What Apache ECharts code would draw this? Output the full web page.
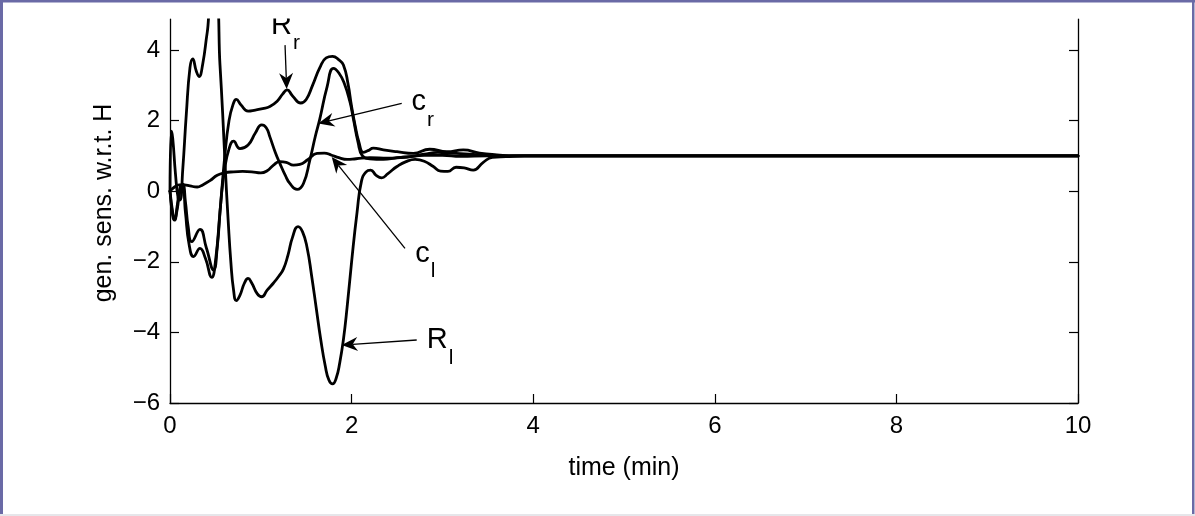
<!DOCTYPE html>
<html>
<head>
<meta charset="utf-8">
<script src="https://cdn.jsdelivr.net/npm/echarts@6.0.0/dist/echarts.min.js"></script>
<style>
  html, body { margin: 0; padding: 0; background: #ffffff; }
  #chart { width: 1195px; height: 516px; }
</style>
</head>
<body>
<div id="chart"></div>
<script>
// Generalized sensitivities with respect to H, time in minutes
const xTicks = [0, 2, 4, 6, 8, 10];
const yTicks = [-6, -4, -2, 0, 2, 4];

// [time (min), sensitivity]
const sensRr = [
  [0, 0], [0.03, -0.6], [0.05, -0.8], [0.08, -0.5], [0.11, 0.0], [0.14, 0.1], [0.17, -0.6],
  [0.21, -1.5], [0.26, -1.85], [0.33, -1.62], [0.39, -1.9], [0.46, -2.44], [0.5, -2.0],
  [0.55, -0.6], [0.6, 0.9], [0.65, 2.0], [0.7, 2.5], [0.73, 2.6], [0.78, 2.45], [0.86, 2.27],
  [0.94, 2.3], [1.02, 2.34], [1.1, 2.4], [1.18, 2.55], [1.24, 2.75], [1.29, 2.87], [1.35, 2.7],
  [1.44, 2.5], [1.5, 2.6], [1.57, 3.0], [1.65, 3.5], [1.72, 3.78], [1.79, 3.82], [1.86, 3.72],
  [1.91, 3.58], [1.96, 3.05], [2.0, 2.4], [2.04, 1.85], [2.08, 1.4], [2.13, 1.1], [2.18, 1.15],
  [2.24, 1.22], [2.35, 1.17], [2.5, 1.12], [2.68, 1.07], [2.86, 1.19], [3.05, 1.12], [3.23, 1.17],
  [3.41, 1.08], [3.6, 1.03], [3.8, 1.0], [4.2, 1.0], [10, 1.0]
];
const sensCr = [
  [0, 0], [0.03, -0.7], [0.05, -0.82], [0.08, -0.4], [0.11, 0.1], [0.14, 0.2], [0.17, -0.3],
  [0.2, -1.0], [0.24, -1.43], [0.33, -1.08], [0.4, -1.6], [0.48, -2.23], [0.52, -1.6], [0.56, -0.3],
  [0.6, 0.6], [0.65, 1.2], [0.7, 1.42], [0.77, 1.21], [0.86, 1.31], [0.94, 1.65], [1.01, 1.88],
  [1.06, 1.8], [1.1, 1.54], [1.16, 1.1], [1.21, 0.79], [1.27, 0.45], [1.32, 0.22], [1.4, 0.05],
  [1.47, 0.22], [1.54, 0.88], [1.6, 1.55], [1.65, 2.05], [1.73, 2.96], [1.8, 3.48], [1.86, 3.35],
  [1.92, 3.05], [1.98, 2.55], [2.02, 2.05], [2.07, 1.4], [2.12, 1.0], [2.2, 0.92], [2.35, 0.9],
  [2.5, 0.95], [2.65, 0.98], [2.8, 1.05], [2.95, 1.1], [3.1, 1.08], [3.3, 1.05], [3.5, 1.02],
  [3.8, 1.0], [4.2, 1.0], [10, 1.0]
];
const sensRl = [
  [0, 0], [0.015, 1.7], [0.03, 1.5], [0.06, 0.5], [0.09, -0.2], [0.11, -0.25], [0.14, 0.6],
  [0.18, 2.2], [0.22, 3.5], [0.25, 3.75], [0.29, 3.4], [0.32, 3.25], [0.36, 3.6], [0.41, 4.5],
  [0.46, 5.3], [0.51, 5.3], [0.55, 3.6], [0.58, 2.2], [0.61, 0.6], [0.64, -0.8], [0.67, -2.0],
  [0.7, -2.8], [0.73, -3.1], [0.77, -2.95], [0.82, -2.6], [0.86, -2.47], [0.9, -2.6], [0.96, -2.9],
  [1.01, -2.99], [1.07, -2.8], [1.14, -2.6], [1.2, -2.4], [1.25, -2.2], [1.3, -1.8], [1.35, -1.3],
  [1.41, -1.0], [1.46, -1.15], [1.51, -1.6], [1.56, -2.4], [1.61, -3.3], [1.66, -4.2], [1.71, -4.95],
  [1.75, -5.35], [1.79, -5.46], [1.83, -5.3], [1.87, -4.85], [1.91, -4.2], [1.95, -3.3], [2.0, -2.0],
  [2.06, -0.6], [2.11, 0.3], [2.16, 0.55], [2.21, 0.6], [2.27, 0.45], [2.33, 0.38], [2.4, 0.5],
  [2.5, 0.7], [2.6, 0.84], [2.7, 0.9], [2.8, 0.85], [2.9, 0.7], [2.98, 0.57], [3.06, 0.56],
  [3.15, 0.68], [3.24, 0.66], [3.34, 0.6], [3.45, 0.82], [3.55, 0.96], [3.7, 0.98], [3.9, 1.0],
  [4.2, 1.0], [10, 1.0]
];
const sensCl = [
  [0, 0], [0.05, 0.12], [0.1, 0.18], [0.16, 0.18], [0.22, 0.15], [0.3, 0.12], [0.36, 0.18],
  [0.44, 0.3], [0.52, 0.45], [0.6, 0.52], [0.7, 0.55], [0.8, 0.56], [0.9, 0.55], [1.0, 0.52],
  [1.07, 0.58], [1.14, 0.74], [1.21, 0.84], [1.28, 0.82], [1.36, 0.74], [1.43, 0.76], [1.52, 0.9],
  [1.62, 1.07], [1.7, 1.08], [1.78, 1.02], [1.86, 0.95], [1.95, 0.9], [2.05, 0.92], [2.2, 0.95],
  [2.4, 0.94], [2.6, 0.97], [2.8, 1.02], [3.0, 1.02], [3.2, 0.99], [3.5, 1.0], [4.2, 1.0], [10, 1.0]
];

// Arrow annotations, given in axis units: label anchor (left, baseline), arrow tail and tip
const annotations = [
  { main: 'R', sub: 'r', text: [1.112, 4.47],  tail: [1.267, 4.14],  tip: [1.285, 2.90] },
  { main: 'c', sub: 'r', text: [2.66, 2.30],   tail: [2.552, 2.49],  tip: [1.633, 1.92] },
  { main: 'c', sub: 'l', text: [2.70, -2.0],   tail: [2.588, -1.62], tip: [1.781, 0.97] },
  { main: 'R', sub: 'l', text: [2.827, -4.45], tail: [2.717, -4.215], tip: [1.891, -4.36] }
];

const FONT = '"Liberation Sans", Arial, Helvetica, sans-serif';
const minus = v => String(v).replace('-', '\u2212');

const grid = { left: 170, right: 117, top: 19, bottom: 113 };
const yMin = -6, yMax = 4.88;

function lineSeries(name, data) {
  return {
    name, type: 'line', data,
    xAxisIndex: 0, yAxisIndex: 0,
    showSymbol: false, smooth: 0.5,
    clip: true,
    lineStyle: { color: '#000', width: 2.8, join: 'round', cap: 'round' },
    emphasis: { disabled: true },
    z: 3
  };
}

const option = {
  animation: false,
  backgroundColor: '#ffffff',
  grid: { left: grid.left, right: grid.right, top: grid.top, bottom: grid.bottom, containLabel: false },
  xAxis: {
    type: 'value', min: 0, max: 10, interval: 2,
    name: 'time (min)', nameLocation: 'middle', nameGap: 53,
    nameTextStyle: { fontFamily: FONT, fontSize: 25, color: '#000' },
    axisLine: { onZero: false, lineStyle: { color: '#000', width: 1.3 } },
    axisTick: { inside: true, length: 9, lineStyle: { color: '#000', width: 1.2 } },
    axisLabel: { fontFamily: FONT, fontSize: 24, color: '#000', margin: 11, customValues: xTicks },
    splitLine: { show: false }
  },
  yAxis: [
    {
      type: 'value', min: yMin, max: yMax, position: 'left',
      axisLine: { onZero: false, lineStyle: { color: '#000', width: 1.3 } },
      axisTick: { inside: true, length: 9, customValues: yTicks, lineStyle: { color: '#000', width: 1.2 } },
      axisLabel: { fontFamily: FONT, fontSize: 24, color: '#000', margin: 10,
                   customValues: yTicks, formatter: v => minus(v) },
      splitLine: { show: false }
    },
    {
      type: 'value', min: yMin, max: yMax, position: 'right',
      axisLine: { show: true, onZero: false, lineStyle: { color: '#000', width: 1.3 } },
      axisTick: { show: true, inside: true, length: 9, customValues: yTicks, lineStyle: { color: '#000', width: 1.2 } },
      axisLabel: { show: false },
      splitLine: { show: false }
    }
  ],
  series: [
    lineSeries('R_r', sensRr),
    lineSeries('c_r', sensCr),
    lineSeries('R_l', sensRl),
    lineSeries('c_l', sensCl)
  ]
};

const chart = echarts.init(document.getElementById('chart'), null, { renderer: 'canvas' });
chart.setOption(option);

// Labels with subscripts and Matlab-style arrows, placed through the axis scales
const measureCtx = document.createElement('canvas').getContext('2d');
function textWidth(str, size) {
  measureCtx.font = size + 'px "Liberation Sans"';
  return measureCtx.measureText(str).width;
}
const toPx = p => chart.convertToPixel({ xAxisIndex: 0, yAxisIndex: 0 }, p);

const MAIN_SIZE = 29, SUB_SIZE = 21, SUB_DROP = 15.5, BASE_SHIFT = 0.27;
const elements = [];
annotations.forEach(a => {
  const tip = toPx(a.tip), tail = toPx(a.tail), anchor = toPx(a.text);
  const dx = tip[0] - tail[0], dy = tip[1] - tail[1];
  const len = Math.hypot(dx, dy);
  const ux = dx / len, uy = dy / len, nx = -uy, ny = ux;
  const L = 16, W = 7, N = 5;
  const bx = tip[0] - ux * L, by = tip[1] - uy * L;
  const notch = [tip[0] - ux * (L - N), tip[1] - uy * (L - N)];
  elements.push({
    type: 'line', z: 20,
    shape: { x1: tail[0], y1: tail[1], x2: notch[0], y2: notch[1] },
    style: { stroke: '#000', lineWidth: 1.3 }
  });
  elements.push({
    type: 'polygon', z: 20,
    shape: { points: [tip, [bx + nx * W, by + ny * W], notch, [bx - nx * W, by - ny * W]] },
    style: { fill: '#000' }
  });
  elements.push({
    type: 'text', z: 20, x: anchor[0], y: anchor[1] - BASE_SHIFT * MAIN_SIZE,
    style: { text: a.main, font: MAIN_SIZE + 'px ' + FONT, fill: '#000', align: 'left', verticalAlign: 'middle' }
  });
  elements.push({
    type: 'text', z: 20, x: anchor[0] + textWidth(a.main, MAIN_SIZE) + 1,
    y: anchor[1] + SUB_DROP - BASE_SHIFT * SUB_SIZE,
    style: { text: a.sub, font: SUB_SIZE + 'px ' + FONT, fill: '#000', align: 'left', verticalAlign: 'middle' }
  });
});

// Y axis title
elements.push({
  type: 'text', z: 20, x: 104, y: 203, rotation: Math.PI / 2,
  style: { text: 'gen. sens. w.r.t. H', font: '25px ' + FONT, fill: '#000', align: 'center', verticalAlign: 'middle' }
});

// The figure is cut just above the axes: blank band over anything above the plot top
elements.push({
  type: 'rect', z: 30, shape: { x: 0, y: 0, width: 1195, height: grid.top - 0.5 },
  style: { fill: '#ffffff' }
});
// Page frame
const frame = '#6a6aa6';
elements.push({ type: 'rect', z: 40, shape: { x: 0, y: 0, width: 1195, height: 2.5 }, style: { fill: frame } });
elements.push({ type: 'rect', z: 40, shape: { x: 0, y: 0, width: 3, height: 516 }, style: { fill: frame } });
elements.push({ type: 'rect', z: 40, shape: { x: 1192, y: 0, width: 2.5, height: 516 }, style: { fill: frame } });
elements.push({ type: 'rect', z: 40, shape: { x: 0, y: 514, width: 1195, height: 2 }, style: { fill: '#e6e6ea' } });

chart.setOption({ graphic: { elements } });
</script>
</body>
</html>
